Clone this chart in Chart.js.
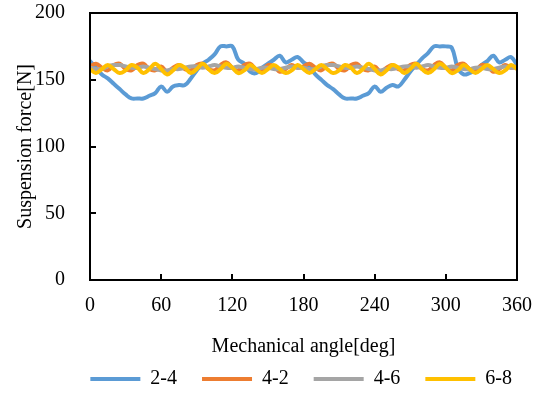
<!DOCTYPE html>
<html>
<head>
<meta charset="utf-8">
<script src="https://cdn.jsdelivr.net/npm/chart.js@4.4.1/dist/chart.umd.min.js"></script>
<style>
  html, body { margin: 0; padding: 0; background: #fff; }
  #wrap { width: 543px; height: 394px; }
</style>
</head>
<body>
<div id="wrap"><canvas id="forceChart"></canvas></div>
<script>
// Mechanical angle [deg], one point every 5 deg
const angles = [0,5,10,15,20,25,30,35,40,45,50,55,60,65,70,75,80,85,90,95,100,105,110,115,120,125,130,135,140,145,150,155,160,165,170,175,180,
  185,190,195,200,205,210,215,220,225,230,235,240,245,250,255,260,265,270,275,280,285,290,295,300,305,310,315,320,325,330,335,340,345,350,355,360];

// Suspension force [N] per winding
const force24 = [164,159,154,151,147,143,139,136,136,136,138,140,145,141,145,146,146,151,157,162,165,169,175,175,175,165,162,156,155,159,162,165,168,163,165,167,163,
  160,154,150,146,143,139,136,136,136,138,140,145,141,144,146,145,150,156,161,166,170,175,175,175,174,159,154,155,157,161,164,168,163,165,167,161];
const force42 = [160,162,159,157,161,162,158,157,161,162,158,157,160,156,159,161,158,157,161,162,158,157,161,163,159,157,161,162,158,157,161,160,156,158,161,159,160,
  162,159,157,161,162,158,157,161,162,158,157,160,156,159,161,158,157,161,162,158,157,161,163,159,157,161,162,158,156,161,160,156,158,161,159,160];
const force46 = [159,158,158,160,161,161,160,159,159,160,159,158,157,157,158,158,159,160,160,159,160,161,160,159,159,160,159,158,158,159,159,158,158,159,160,159,159,
  158,158,160,161,161,160,159,159,160,159,158,157,157,158,158,159,160,160,159,160,161,160,159,159,160,159,158,158,159,159,158,158,159,160,159,159];
const force68 = [158,155,158,161,158,155,157,161,159,155,158,162,158,154,157,161,159,155,158,162,158,155,158,162,159,155,157,161,158,155,158,161,158,155,157,161,158,
  155,158,161,158,155,157,161,159,155,158,162,158,154,157,161,159,155,158,162,158,155,158,162,159,155,157,161,158,155,158,161,158,155,157,161,158];

const seriesNames = ['2-4', '4-2', '4-6', '6-8'];
const seriesColors = ['#5B9BD5', '#ED7D31', '#A5A5A5', '#FFC000'];
const seriesValues = [force24, force42, force46, force68];

const xTicks = [0, 60, 120, 180, 240, 300, 360];
const yTicks = [0, 50, 100, 150, 200];

const serif = 'Liberation Serif, Times New Roman, serif';

// plot frame + inward tick marks, like the spreadsheet original
const frameBox = {
    id: 'frameBox',
    afterDraw(chart) {
        const {ctx, chartArea: a, scales} = chart;
        ctx.save();
        ctx.strokeStyle = '#000';
        ctx.lineWidth = 2;
        ctx.beginPath();
        xTicks.slice(1, -1).forEach(v => {
            const px = Math.round(scales.x.getPixelForValue(v));
            ctx.moveTo(px, a.bottom);
            ctx.lineTo(px, a.bottom - 6);
        });
        yTicks.slice(1, -1).forEach(v => {
            const py = Math.round(scales.y.getPixelForValue(v));
            ctx.moveTo(a.left, py);
            ctx.lineTo(a.left + 6, py);
        });
        ctx.stroke();
        ctx.strokeRect(a.left, a.top, a.right - a.left, a.bottom - a.top);
        ctx.restore();
    }
};

const datasets = seriesNames.map((name, i) => ({
    label: name,
    data: angles.map((a, k) => ({x: a, y: seriesValues[i][k]})),
    borderColor: seriesColors[i],
    backgroundColor: seriesColors[i],
    borderWidth: 4,
    borderCapStyle: 'round',
    borderJoinStyle: 'round',
    pointRadius: 0,
    tension: 0.4,
    order: seriesNames.length - i // later series on top
}));

const ctx = document.getElementById('forceChart').getContext('2d');
new Chart(ctx, {
    type: 'line',
    data: { datasets: datasets },
    options: {
        responsive: true,
        maintainAspectRatio: false,
        animation: false,
        layout: { padding: { left: 0, right: 6, top: 0, bottom: -5 } },
        plugins: {
            tooltip: { enabled: false },
            legend: {
                position: 'bottom',
                align: 'end',
                labels: {
                    sort: (a, b) => a.datasetIndex - b.datasetIndex,
                    usePointStyle: true,
                    pointStyle: 'line',
                    pointStyleWidth: 50,
                    boxHeight: 20,
                    padding: 25,
                    color: '#000',
                    font: { family: serif, size: 20 }
                }
            }
        },
        scales: {
            x: {
                type: 'linear',
                min: 0,
                max: 360,
                afterFit: s => { s.height = 64; },
                afterBuildTicks: s => { s.ticks = xTicks.map(v => ({value: v})); },
                grid: { display: false },
                border: { display: false },
                ticks: { color: '#000', padding: 6, maxRotation: 0, font: { family: serif, size: 20 } },
                title: {
                    display: true,
                    text: 'Mechanical angle[deg]',
                    color: '#000',
                    font: { family: serif, size: 20 },
                    padding: { top: 0, bottom: -15 }
                }
            },
            y: {
                min: 0,
                max: 200,
                afterFit: s => { s.width = 90; s.paddingTop = 13; s.paddingBottom = 0; },
                afterBuildTicks: s => { s.ticks = yTicks.map(v => ({value: v})); },
                grid: { display: false },
                border: { display: false },
                ticks: { color: '#000', padding: 17, font: { family: serif, size: 20 } },
                title: {
                    display: true,
                    text: 'Suspension force[N]',
                    color: '#000',
                    font: { family: serif, size: 20 },
                    padding: { top: 14, bottom: 0 }
                }
            },
            // empty right-hand margin so the plot ends where the original does
            yRight: {
                position: 'right',
                afterFit: s => { s.width = 20; },
                grid: { display: false },
                border: { display: false },
                ticks: { display: false }
            }
        }
    },
    plugins: [frameBox]
});
</script>
</body>
</html>
